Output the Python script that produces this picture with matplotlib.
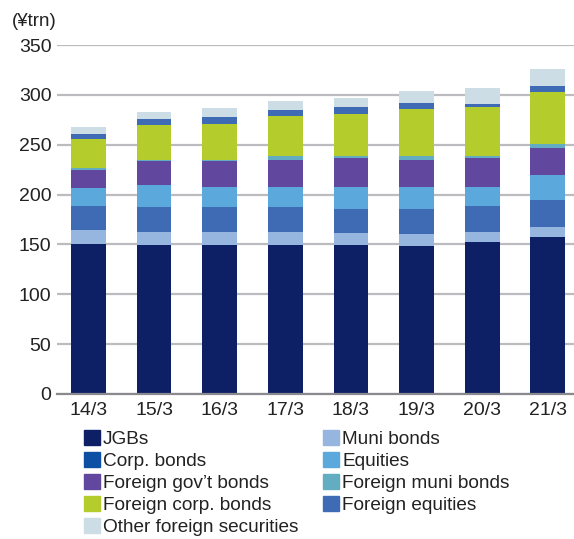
import matplotlib.pyplot as plt
import matplotlib.patches as mpatches
import numpy as np

plt.rcParams["font.family"] = ["Liberation Sans", "DejaVu Sans"]

# fiscal year-ends (YY/M)
years = ["14/3", "15/3", "16/3", "17/3", "18/3", "19/3", "20/3", "21/3"]

# holdings by asset class, ¥trn
jgbs          = [150, 149, 149, 149, 149, 148, 152, 157]
muni_bonds    = [14, 13, 13, 13, 12, 12, 10, 10]
corp_bonds    = [25, 26, 26, 26, 25, 26, 27, 28]
equities      = [18, 22, 20, 20, 22, 22, 19, 25]
foreign_gov   = [18, 24, 26, 27, 29, 27, 29, 27]
foreign_muni  = [2, 1, 1, 4, 2, 4, 2, 4]
foreign_corp  = [29, 35, 36, 40, 42, 47, 49, 52]
foreign_eq    = [5, 6, 7, 6, 7, 6, 3, 6]
other_foreign = [7, 7, 9, 9, 9, 12, 16, 17]

# (label, values, bar colour, legend swatch colour)
series = [
    ("JGBs", jgbs, "#0d2066", "#0d2066"),
    ("Muni bonds", muni_bonds, "#96b5df", "#96b5df"),
    ("Corp. bonds", corp_bonds, "#3f6bb5", "#0c4fa3"),
    ("Equities", equities, "#5ba9dc", "#5ba9dc"),
    ("Foreign gov\u2019t bonds", foreign_gov, "#61479d", "#61479d"),
    ("Foreign muni bonds", foreign_muni, "#62adc1", "#62adc1"),
    ("Foreign corp. bonds", foreign_corp, "#b4cd2c", "#b4cd2c"),
    ("Foreign equities", foreign_eq, "#3f6bb5", "#3f6bb5"),
    ("Other foreign securities", other_foreign, "#cddde6", "#cddde6"),
]

W, H = 574, 539
fig = plt.figure(figsize=(W / 100, H / 100), dpi=100)
ax = fig.add_axes([57 / W, (H - 394) / H, (W - 57) / W, (394 - 45) / H])

x = np.arange(len(years))
bottom = np.zeros(len(years))
for label, vals, color, _ in series:
    ax.bar(x, vals, width=0.53, bottom=bottom, color=color, linewidth=0, zorder=2)
    bottom += np.array(vals)

ax.set_xlim(-0.48, 7.40)
ax.set_ylim(0, 350)
ax.set_yticks(range(0, 351, 50))
ax.set_xticks(x)
ax.set_xticklabels(years)
ax.grid(axis="y", color="#bcbcc0", linewidth=1.6, zorder=0)
ax.tick_params(axis="both", length=0, labelsize=14, labelcolor="#222222")
ax.tick_params(axis="y", pad=4)
ax.tick_params(axis="x", pad=6)
for side in ["top", "right", "left"]:
    ax.spines[side].set_visible(False)
ax.spines["bottom"].set_color("#8a8a8e")
ax.spines["bottom"].set_linewidth(1.6)
ax.spines["bottom"].set_zorder(3)

fig.text(12 / W, 1 - 22 / H, "(\u00a5trn)", fontsize=13.5, color="#222222",
         ha="left", va="center")

# legend laid out two columns: left column then right column
order = [0, 2, 4, 6, 8, 1, 3, 5, 7]
handles = [mpatches.Patch(color=series[i][3], label=series[i][0]) for i in order]
fig.legend(handles=handles, loc="upper left", bbox_to_anchor=(84 / W, 1 - 430 / H),
           ncol=2, frameon=False, fontsize=13.7, handlelength=0.85, handleheight=0.85,
           handletextpad=0.15, labelspacing=0.2, columnspacing=1.3,
           borderaxespad=0, borderpad=0, labelcolor="#222222")

fig.savefig("out.png", dpi=100)
